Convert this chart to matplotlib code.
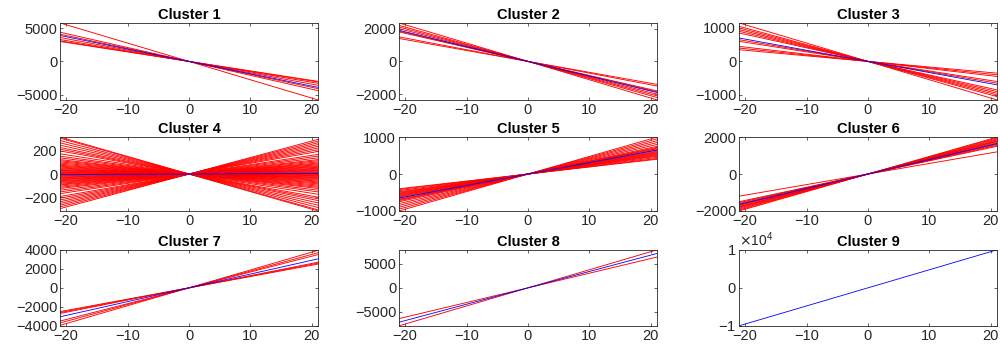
import numpy as np
import matplotlib
matplotlib.use("Agg")
import matplotlib.pyplot as plt
from matplotlib.ticker import ScalarFormatter

plt.rcParams['font.family'] = ['Liberation Sans', 'DejaVu Sans']

# x range of every line
x_edge = 21

titles = ["Cluster 1", "Cluster 2", "Cluster 3", "Cluster 4", "Cluster 5",
          "Cluster 6", "Cluster 7", "Cluster 8", "Cluster 9"]

# y value of each member line at x = +21 (lines pass through origin)
c1_red = [-5800, -4400, -4100, -3600, -3300, -3100, -3000]
c2_red = [-2350, -2200, -2100, -2000, -1850, -1800, -1500, -1400]
c3_red = [-1150, -1050, -1000, -950, -900, -850, -650, -600, -450, -400, -350]
c4_red = [300, 285, 270, 255, 240, 225, 210, 195, 170, 155, 140, 125, 115,
          105, 95, 88, 80, 72, 65, 58, 50, 44, 38, 32, 26, 20, 14, 8, 3, -3,
          -8, -14, -20, -26, -32, -38, -45, -52, -60, -68, -76, -85, -95,
          -105, -115, -125, -140, -155, -175, -200, -215, -230, -250, -270,
          -290, -310, -320]
c5_red = [1000, 950, 900, 850, 800, 750, 720, 700, 680, 650, 620, 600, 580,
          560, 540, 520, 500, 480, 450, 420, 400]
c6_red = [2000, 1950, 1900, 1850, 1800, 1780, 1750, 1700, 1650, 1600, 1550,
          1500, 1200]
c7_red = [3950, 3700, 3500, 2700, 2600, 2500]
c8_red = [7900, 6400]
c9_red = []

# centroid (blue) line value at x = +21
blue_vals = [-3900, -1900, -700, 5, 650, 1650, 3050, 7150, 10000]

red_sets = [c1_red, c2_red, c3_red, c4_red, c5_red, c6_red, c7_red, c8_red, c9_red]

yticks = [[-5000, 0, 5000], [-2000, 0, 2000], [-1000, 0, 1000],
          [-200, 0, 200], [-1000, 0, 1000], [-2000, 0, 2000],
          [-4000, -2000, 0, 2000, 4000], [-5000, 0, 5000], [-10000, 0, 10000]]
xticks = [-20, -10, 0, 10, 20]

fig = plt.figure(figsize=(10, 3.47), dpi=100)

lefts = [0.060, 0.399, 0.739]
width = 0.258
bottoms = [0.712, 0.392, 0.061]
height = [0.222, 0.213, 0.219]

tc = '#262626'
x = np.array([-x_edge, x_edge])
for i in range(9):
    r, c = divmod(i, 3)
    ax = fig.add_axes([lefts[c], bottoms[r], width, height[r]])
    for v in red_sets[i]:
        ax.plot(x, x * v / x_edge, color='red', lw=0.65)
    ax.plot(x, x * blue_vals[i] / x_edge, color='blue', lw=0.6)
    m = max([abs(v) for v in red_sets[i]] + [abs(blue_vals[i])])
    ax.set_xlim(-x_edge, x_edge)
    ax.set_ylim(-m, m)
    ax.set_xticks(xticks)
    ax.set_yticks(yticks[i])
    if i == 8:
        fmt = ScalarFormatter(useMathText=True)
        fmt.set_powerlimits((0, 0))
        ax.yaxis.set_major_formatter(fmt)
        ax.yaxis.get_offset_text().set_fontsize(10)
        ax.yaxis.get_offset_text().set_color('#808080')
    ax.tick_params(direction='in', length=2.5, width=0.5, labelsize=10.5,
                   colors=tc, top=True, right=True, pad=2)
    for s in ax.spines.values():
        s.set_color(tc)
        s.set_linewidth(0.6)
    ax.set_title(titles[i], fontsize=10.5, fontweight='bold', pad=3, color='black')

fig.savefig("out.png", dpi=100)
